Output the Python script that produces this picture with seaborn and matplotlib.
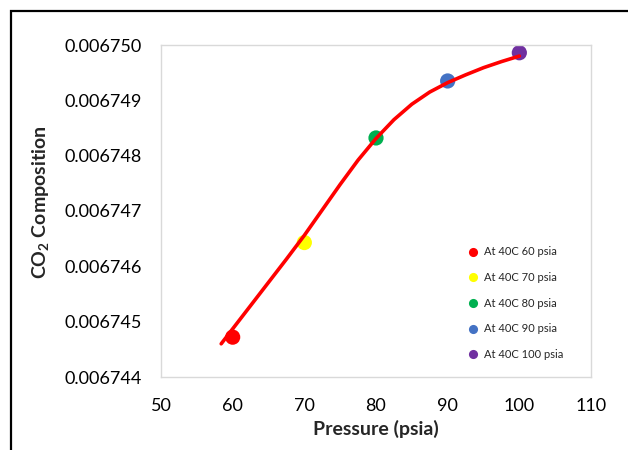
import pandas as pd
import seaborn as sns
import matplotlib.pyplot as plt
from matplotlib.patches import Rectangle

# datos
presion = [60, 70, 80, 90, 100]
co2 = [0.00674472, 0.00674643, 0.00674832, 0.00674935, 0.00674986]
etiquetas = ["At 40C 60 psia", "At 40C 70 psia", "At 40C 80 psia",
             "At 40C 90 psia", "At 40C 100 psia"]
colores = ["#FF0000", "#FFFF00", "#00B050", "#4472C4", "#7030A0"]

# curva roja (leida punto a punto sobre la imagen)
curva_x = [58.4, 60, 62.5, 65, 67.5, 70, 72.5, 75, 77.5, 80,
           82.5, 85, 87.5, 90, 92.5, 95, 97.5, 100]
curva_y = [0.00674460, 0.00674487, 0.00674529, 0.00674571, 0.00674613,
           0.00674656, 0.00674702, 0.00674748, 0.00674792, 0.00674831,
           0.00674865, 0.00674893, 0.00674915, 0.00674932, 0.00674946,
           0.00674959, 0.00674970, 0.00674980]

x_ticks = [50, 60, 70, 80, 90, 100, 110]
y_ticks = [0.006744, 0.006745, 0.006746, 0.006747, 0.006748, 0.006749, 0.006750]

df = pd.DataFrame({"presion": presion, "co2": co2, "serie": etiquetas})
curva = pd.DataFrame({"presion": curva_x, "co2": curva_y})

sns.set_style("white")
plt.rcParams["font.family"] = ["Lato", "DejaVu Sans"]
plt.rcParams["mathtext.default"] = "regular"

fig = plt.figure(figsize=(6.28, 4.5), dpi=100)
ax = fig.add_axes([161 / 628, 1 - 377 / 450, 430 / 628, 332 / 450])

sns.lineplot(data=curva, x="presion", y="co2", color="#FF0000", lw=2.6, ax=ax,
             legend=False, zorder=3, sort=False)
sns.scatterplot(data=df, x="presion", y="co2", hue="serie", palette=colores,
                s=120, edgecolor="none", ax=ax, zorder=2)

ax.set_xlim(50, 110)
ax.set_ylim(0.006744, 0.006750)
ax.set_xticks(x_ticks)
ax.set_yticks(y_ticks)
ax.set_yticklabels([f"{v:.6f}" for v in y_ticks])
ax.tick_params(axis="x", length=0, pad=15, labelsize=13, colors="black")
ax.tick_params(axis="y", length=0, pad=14, labelsize=13, colors="black")
for sp in ax.spines.values():
    sp.set_color("#D9D9D9")
    sp.set_linewidth(1)

ax.set_xlabel("Pressure (psia)", fontsize=14, fontweight="bold")
ax.set_ylabel("CO$_2$ Composition", fontsize=14, fontweight="bold")
ax.xaxis.set_label_coords(0.5, -0.157)
ax.xaxis.label.set_va("center")
ax.yaxis.set_label_coords(-0.281, 0.527)
ax.yaxis.label.set_va("center")

ax.legend(loc="center", bbox_to_anchor=(0.818, 0.222), frameon=False,
          fontsize=8, labelspacing=1.32, handletextpad=0.0, markerscale=0.6)

# marco exterior del grafico
fig.patches.append(Rectangle((11 / 628, -0.1), 1.2, 1 - 11 / 450 + 0.1,
                             transform=fig.transFigure, fill=False,
                             edgecolor="black", lw=1.6))

plt.savefig("out.png", dpi=100)
